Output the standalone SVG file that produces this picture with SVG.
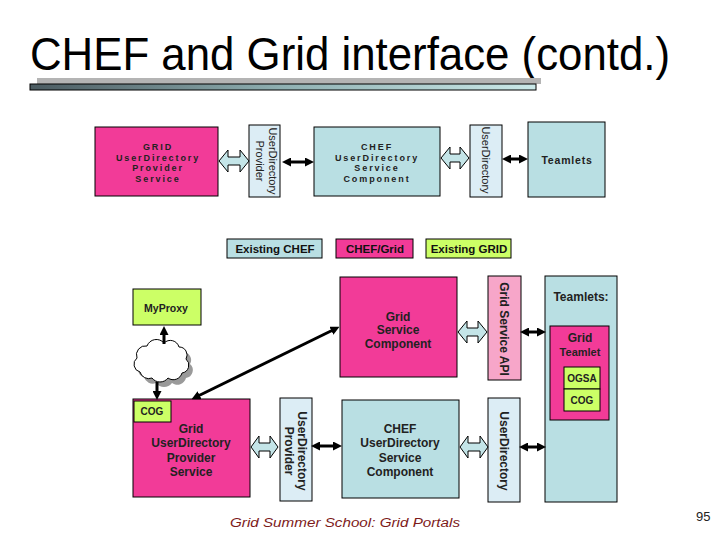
<svg xmlns="http://www.w3.org/2000/svg" width="720" height="540" viewBox="0 0 720 540">
<style>
text{font-family:"Liberation Sans",Arial,sans-serif}
.pink{fill:#f23b98;stroke:#000;stroke-width:1}
.teal{fill:#b9dfe3;stroke:#000;stroke-width:1}
.lblue{fill:#dcedf5;stroke:#000;stroke-width:1}
.lime{fill:#ccff66;stroke:#000;stroke-width:1}
.lpink{fill:#f7a6c9;stroke:#000;stroke-width:1}
.hollow{fill:#c4e5e8;stroke:#000;stroke-width:1}
.blk{stroke:#000;stroke-width:3;fill:none;marker-start:url(#ah);marker-end:url(#ah)}
.one{stroke:#000;stroke-width:3;fill:none;marker-end:url(#ah)}
.t{font-size:12px;font-weight:bold;fill:#222;text-anchor:middle}
.ts{font-size:9px;font-weight:bold;fill:#222;text-anchor:middle;letter-spacing:1.9px}
.tl{font-size:11.5px;font-weight:bold;fill:#111;text-anchor:middle}
.tb{font-size:10px;font-weight:bold;fill:#222;text-anchor:middle}
.v{font-size:11px;fill:#222;text-anchor:middle}
.vb{font-size:12px;font-weight:bold;fill:#222;text-anchor:middle}
</style>
<defs>
<linearGradient id="bar" x1="0" x2="1" y1="0" y2="0">
<stop offset="0" stop-color="#4b5b61"/>
<stop offset="0.5" stop-color="#8fb0b2"/>
<stop offset="1" stop-color="#cbe9e9"/>
</linearGradient>
<marker id="ah" viewBox="0 0 9 9" refX="4" refY="4.5" markerWidth="9" markerHeight="9" markerUnits="userSpaceOnUse" orient="auto-start-reverse">
<path d="M0,0 L9,4.5 L0,9 z" fill="#000"/>
</marker>
</defs>

<g id="title">
<text x="30" y="70" font-size="46" fill="#000" textLength="640" lengthAdjust="spacingAndGlyphs">CHEF and Grid interface (contd.)</text>
<rect x="37" y="78" width="504" height="6" fill="#b4b4b4"/>
<rect x="30" y="84" width="506" height="6" fill="url(#bar)" stroke="#000" stroke-width="1"/>
</g>

<g id="grid-udps-top">
<rect class="pink" x="95" y="127" width="123" height="69"/>
<text class="ts" x="158" y="150">GRID</text>
<text class="ts" x="158" y="160.5">UserDirectory</text>
<text class="ts" x="158" y="171">Provider</text>
<text class="ts" x="158" y="181.5">Service</text>
</g>

<g id="udp-top">
<rect class="lblue" x="249" y="125" width="31" height="72"/>
<text class="v" transform="translate(269,161) rotate(90)">UserDirectory</text>
<text class="v" transform="translate(256,161) rotate(90)">Provider</text>
</g>

<g id="chef-udsc-top">
<rect class="teal" x="314" y="127" width="126" height="69"/>
<text class="ts" x="377" y="150">CHEF</text>
<text class="ts" x="377" y="160.5">UserDirectory</text>
<text class="ts" x="377" y="171">Service</text>
<text class="ts" x="377" y="181.5">Component</text>
</g>

<g id="ud-top">
<rect class="lblue" x="470" y="125" width="32" height="72"/>
<text class="v" transform="translate(482,160) rotate(90)">UserDirectory</text>
</g>

<g id="teamlets-top">
<rect class="teal" x="528" y="122" width="77" height="75"/>
<text class="ts" x="567" y="164" style="font-size:10.5px;letter-spacing:0.8px">Teamlets</text>
</g>

<g id="legend">
<rect class="teal" x="227" y="239" width="95" height="19"/>
<text class="tl" x="275" y="253">Existing CHEF</text>
<rect class="pink" x="336" y="239" width="77" height="19"/>
<text class="tl" x="375" y="253" fill="#2a0a1a">CHEF/Grid</text>
<rect class="lime" x="426" y="239" width="85" height="19"/>
<text class="tl" x="469" y="253">Existing GRID</text>
</g>

<g id="myproxy">
<rect class="lime" x="133" y="289" width="68" height="36"/>
<text class="tb" x="166" y="312" style="font-size:10.5px">MyProxy</text>
</g>

<g id="cloud">
<path transform="translate(4,5)" fill="#9a9a9a" d="M140,372 a8,8 0 0 1 -3,-14 a9,9 0 0 1 10,-12 a10,10 0 0 1 17,-3 a9,9 0 0 1 15,4 a8,8 0 0 1 7,12 a8,8 0 0 1 -4,14 a9,9 0 0 1 -14,5 a10,10 0 0 1 -16,0 a9,9 0 0 1 -12,-6 z"/>
<path fill="#fff" stroke="#000" stroke-width="1" d="M140,372 a8,8 0 0 1 -3,-14 a9,9 0 0 1 10,-12 a10,10 0 0 1 17,-3 a9,9 0 0 1 15,4 a8,8 0 0 1 7,12 a8,8 0 0 1 -4,14 a9,9 0 0 1 -14,5 a10,10 0 0 1 -16,0 a9,9 0 0 1 -12,-6 z"/>
</g>

<g id="grid-service-component">
<rect class="pink" x="340" y="277" width="117" height="100"/>
<text class="t" x="398" y="321">Grid</text>
<text class="t" x="398" y="334">Service</text>
<text class="t" x="398" y="348">Component</text>
</g>

<g id="grid-service-api">
<rect class="lpink" x="488" y="276" width="33" height="104"/>
<text class="vb" transform="translate(500,329) rotate(90)">Grid Service API</text>
</g>

<g id="teamlets">
<rect class="teal" x="545" y="276" width="72" height="226"/>
<text class="t" x="581" y="301">Teamlets:</text>
</g>

<g id="grid-teamlet">
<rect class="pink" x="550" y="326" width="59" height="94"/>
<text class="t" x="580" y="342">Grid</text>
<text class="t" x="580" y="356" style="font-size:11px">Teamlet</text>
</g>

<g id="ogsa">
<rect class="lime" x="564" y="367" width="36" height="22"/>
<text class="tb" x="582" y="382">OGSA</text>
</g>

<g id="cog-teamlet">
<rect class="lime" x="564" y="389" width="36" height="22"/>
<text class="tb" x="582" y="404">COG</text>
</g>

<g id="grid-udps">
<rect class="pink" x="133" y="399" width="117" height="98"/>
<text class="t" x="191" y="433">Grid</text>
<text class="t" x="191" y="447">UserDirectory</text>
<text class="t" x="191" y="462">Provider</text>
<text class="t" x="191" y="476">Service</text>
</g>

<g id="cog">
<rect class="lime" x="134" y="401" width="37" height="21"/>
<text class="tb" x="152" y="415">COG</text>
</g>

<g id="udp">
<rect class="lblue" x="280" y="398" width="32" height="103"/>
<text class="vb" transform="translate(298,451) rotate(90)">UserDirectory</text>
<text class="vb" transform="translate(285,451) rotate(90)">Provider</text>
</g>

<g id="chef-udsc">
<rect class="teal" x="342" y="400" width="117" height="98"/>
<text class="t" x="400" y="433">CHEF</text>
<text class="t" x="400" y="447">UserDirectory</text>
<text class="t" x="400" y="462">Service</text>
<text class="t" x="400" y="476">Component</text>
</g>

<g id="ud">
<rect class="lblue" x="488" y="398" width="32" height="104"/>
<text class="vb" transform="translate(500,451) rotate(90)">UserDirectory</text>
</g>

<g id="connectors">
<polygon class="hollow" points="219,161 228,150 228,157 240,157 240,150 249,161 240,172 240,165 228,165 228,172"/>
<line class="blk" x1="287" y1="162" x2="309" y2="162"/>
<polygon class="hollow" points="441,158 450,147 450,154 460,154 460,147 469,158 460,169 460,162 450,162 450,169"/>
<line class="blk" x1="507" y1="159" x2="523" y2="159"/>
<polygon class="hollow" points="458,332 467,321 467,328 478,328 478,321 487,332 478,343 478,336 467,336 467,343"/>
<line class="blk" x1="525" y1="332" x2="541" y2="332"/>
<line class="blk" x1="196" y1="397" x2="335" y2="329"/>
<line class="one" x1="164" y1="344" x2="164" y2="331"/>
<line class="one" x1="157" y1="382" x2="157" y2="395"/>
<polygon class="hollow" points="251,447 259,436 259,443 270,443 270,436 278,447 270,458 270,451 259,451 259,458"/>
<line class="blk" x1="316" y1="446" x2="337" y2="446"/>
<polygon class="hollow" points="460,447 468,436 468,443 480,443 480,436 488,447 480,458 480,451 468,451 468,458"/>
<line class="blk" x1="524" y1="447" x2="541" y2="447"/>
</g>

<g id="footer">
<text x="230" y="527" font-family="'DejaVu Sans',sans-serif" font-style="italic" font-size="12" fill="#7d1a1a" textLength="230" lengthAdjust="spacingAndGlyphs">Grid Summer School: Grid Portals</text>
<text x="696" y="521" font-size="13" fill="#222">95</text>
</g>
</svg>
